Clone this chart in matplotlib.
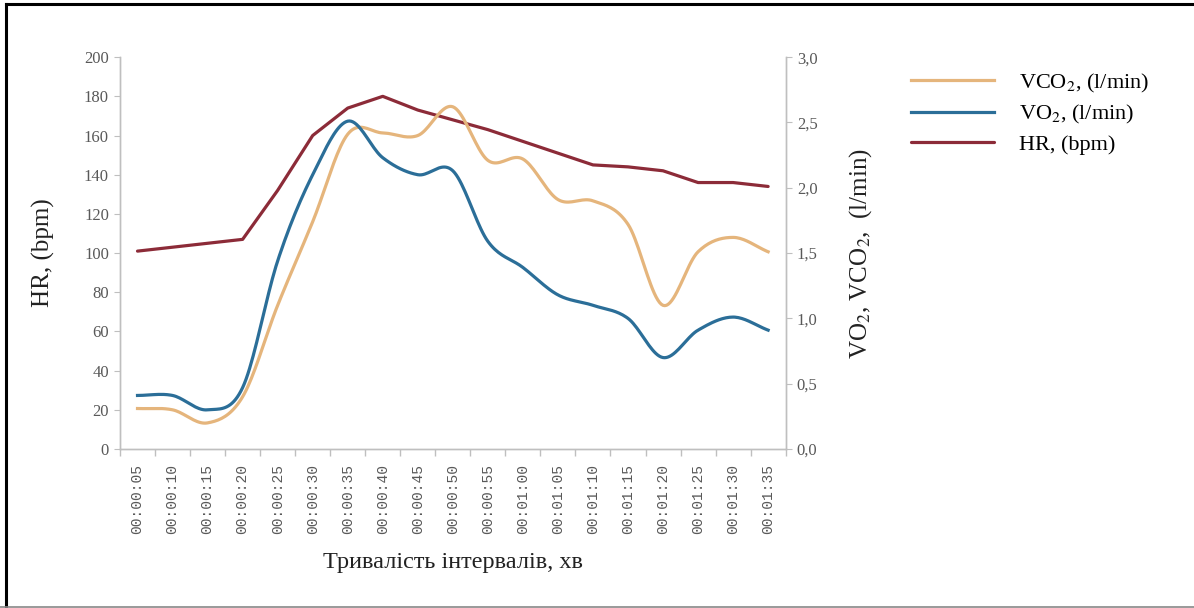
import numpy as np
import matplotlib
matplotlib.use("Agg")
import matplotlib.pyplot as plt
from matplotlib.lines import Line2D
from matplotlib.ticker import FixedLocator, FuncFormatter

plt.rcParams["font.family"] = ["Liberation Serif", "DejaVu Serif"]
plt.rcParams["mathtext.fontset"] = "stix"

# Interval labels (5-second steps)
intervals = ["00:00:05", "00:00:10", "00:00:15", "00:00:20", "00:00:25",
             "00:00:30", "00:00:35", "00:00:40", "00:00:45", "00:00:50",
             "00:00:55", "00:01:00", "00:01:05", "00:01:10", "00:01:15",
             "00:01:20", "00:01:25", "00:01:30", "00:01:35"]

# Heart rate, bpm (left axis)
hr = [101, 103, 105, 107, 132, 160, 174, 180, 173, 168,
      163, 157, 151, 145, 144, 142, 136, 136, 134]

# Oxygen uptake, l/min (right axis)
vo2 = [0.41, 0.41, 0.30, 0.47, 1.44, 2.10, 2.51, 2.23, 2.10, 2.13,
       1.59, 1.39, 1.18, 1.10, 1.00, 0.70, 0.91, 1.01, 0.91]

# CO2 output, l/min (right axis)
vco2 = [0.31, 0.30, 0.20, 0.40, 1.10, 1.74, 2.41, 2.42, 2.40, 2.62,
        2.21, 2.22, 1.91, 1.90, 1.72, 1.10, 1.51, 1.62, 1.51]

hr_ticks = list(range(0, 201, 20))
gas_ticks = [0.0, 0.5, 1.0, 1.5, 2.0, 2.5, 3.0]

C_VCO2 = "#E5B57C"
C_VO2 = "#2B6E98"
C_HR = "#8C2B38"
GRID_GRAY = "#BFBFBF"
TXT_GRAY = "#595959"


def smooth(x, y, n=20):
    """Catmull-Rom curve through the points, as in spreadsheet smoothed lines."""
    x = np.asarray(x, float)
    y = np.asarray(y, float)
    px = np.concatenate([[2 * x[0] - x[1]], x, [2 * x[-1] - x[-2]]])
    py = np.concatenate([[2 * y[0] - y[1]], y, [2 * y[-1] - y[-2]]])
    t = np.linspace(0, 1, n, endpoint=False)
    xs, ys = [], []
    for i in range(1, len(px) - 2):
        for arr, out in ((px, xs), (py, ys)):
            p0, p1, p2, p3 = arr[i - 1], arr[i], arr[i + 1], arr[i + 2]
            out.append(0.5 * ((2 * p1) + (-p0 + p2) * t
                              + (2 * p0 - 5 * p1 + 4 * p2 - p3) * t ** 2
                              + (-p0 + 3 * p1 - 3 * p2 + p3) * t ** 3))
    xs.append([x[-1]])
    ys.append([y[-1]])
    return np.concatenate(xs), np.concatenate(ys)


fig = plt.figure(figsize=(11.94, 6.08), dpi=100)
ax = fig.add_axes([0.1005, 0.2615, 0.5575, 0.6445])
ax2 = ax.twinx()

x = np.arange(len(intervals))

l_hr, = ax.plot(x, hr, color=C_HR, lw=2.3, solid_capstyle="round", label="HR, (bpm)")
sx, sy = smooth(x, vco2)
l_vco2, = ax2.plot(sx, sy, color=C_VCO2, lw=2.3, label=r"VCO$_2$, (l/min)")
sx, sy = smooth(x, vo2)
l_vo2, = ax2.plot(sx, sy, color=C_VO2, lw=2.3, label=r"VO$_2$, (l/min)")

ax.set_xlim(-0.5, len(intervals) - 0.5)
ax.set_ylim(0, 200)
ax2.set_ylim(0, 3.0)

ax.set_yticks(hr_ticks)
ax2.set_yticks(gas_ticks)
ax2.yaxis.set_major_formatter(FuncFormatter(lambda v, p: f"{v:.1f}".replace(".", ",")))

ax.set_xticks(x)
ax.set_xticklabels(intervals, rotation=90, family="Liberation Mono",
                   fontsize=10.5, color=TXT_GRAY)
ax.xaxis.set_minor_locator(FixedLocator(np.arange(-0.5, len(intervals), 1.0)))
ax.tick_params(axis="x", which="major", length=0, pad=11)
ax.tick_params(axis="x", which="minor", length=5, color=GRID_GRAY, width=1)
ax.tick_params(axis="y", length=4, color=GRID_GRAY, labelsize=12,
               labelcolor=TXT_GRAY, pad=4)
ax2.tick_params(axis="y", length=4, color=GRID_GRAY, labelsize=12,
                labelcolor=TXT_GRAY, pad=4)

for a in (ax, ax2):
    a.spines["top"].set_visible(False)
    for s in ("left", "right", "bottom"):
        a.spines[s].set_color(GRID_GRAY)
        a.spines[s].set_linewidth(1.0)

ax.set_ylabel("HR, (bpm)", fontsize=18, color="#222222")
ax.yaxis.set_label_coords(-0.098, 0.5)
ax2.set_ylabel(r"VO$_2$, VCO$_2$,  (l/min)", fontsize=18, color="#222222")
ax2.yaxis.set_label_coords(1.093, 0.5)
ax.set_xlabel("Тривалість інтервалів, хв", fontsize=17.5, color="#222222")
ax.xaxis.set_label_coords(0.5, -0.263)

fig.legend(handles=[l_vco2, l_vo2, l_hr], loc="upper left",
           bbox_to_anchor=(0.746, 0.915), frameon=False, fontsize=16,
           handlelength=3.75, handletextpad=1.1, labelspacing=0.38)

# Frame around the figure
fig.add_artist(Line2D([0.005, 0.005], [0.0, 0.993], transform=fig.transFigure,
                      color="black", lw=2.2))
fig.add_artist(Line2D([0.005, 1.0], [0.993, 0.993], transform=fig.transFigure,
                      color="black", lw=2.2))
fig.add_artist(Line2D([0.0, 1.0], [0.002, 0.002], transform=fig.transFigure,
                      color="#888888", lw=1.2))

fig.savefig("out.png", dpi=100)
